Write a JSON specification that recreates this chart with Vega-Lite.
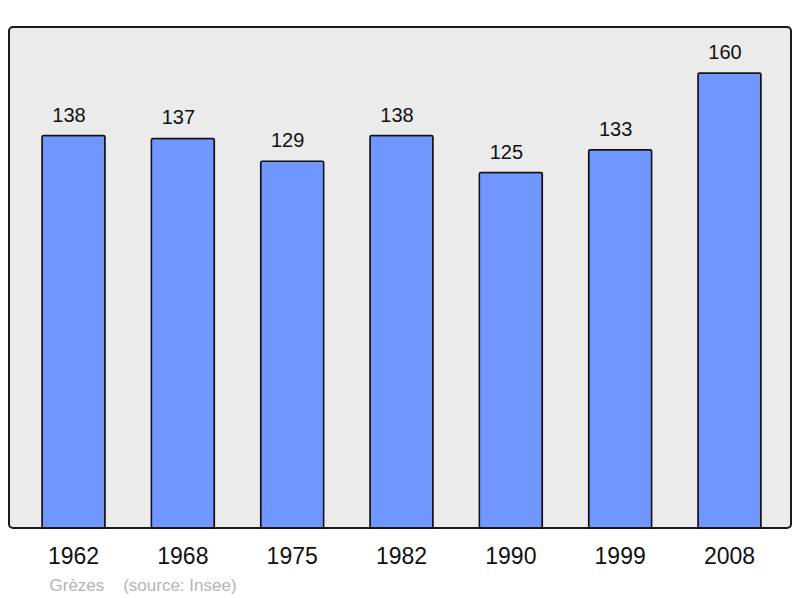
{
  "$schema": "https://vega.github.io/schema/vega-lite/v6.json",
  "width": 782,
  "height": 501,
  "autosize": {"type": "none"},
  "padding": {"left": 9, "top": 27, "right": 9, "bottom": 70},
  "background": "white",
  "config": {
    "font": "Liberation Sans",
    "view": {"fill": "#ebebeb", "stroke": "#1a1a1a", "strokeWidth": 2, "cornerRadius": 4}
  },
  "data": {
    "values": [
      {"year": "1962", "pop": 138},
      {"year": "1968", "pop": 137},
      {"year": "1975", "pop": 129},
      {"year": "1982", "pop": 138},
      {"year": "1990", "pop": 125},
      {"year": "1999", "pop": 133},
      {"year": "2008", "pop": 160}
    ]
  },
  "encoding": {
    "x": {
      "field": "year",
      "type": "ordinal",
      "scale": {"paddingInner": 0.4238, "paddingOuter": 0.28, "range": [2.4, 782.6]},
      "axis": {
        "labelAngle": 0,
        "labelFontSize": 23,
        "labelColor": "#111",
        "labelPadding": 17,
        "ticks": false,
        "domain": false,
        "title": "Grèzes\u00a0\u00a0\u00a0\u00a0(source: Insee)",
        "titleFontSize": 17,
        "titleFontWeight": "normal",
        "titleColor": "#b4b4b4",
        "titleAnchor": "start",
        "titleAlign": "left",
        "titleX": 40,
        "titleY": 62,
        "titleBaseline": "alphabetic"
      }
    },
    "y": {
      "field": "pop",
      "type": "quantitative",
      "scale": {"domain": [0, 176.2], "nice": false},
      "axis": null
    }
  },
  "layer": [
    {
      "mark": {"type": "bar", "color": "#7097ff", "stroke": "#111", "strokeWidth": 1.5, "cornerRadius": 1.5}
    },
    {
      "mark": {"type": "text", "baseline": "alphabetic", "dy": -14, "dx": -4.5, "fontSize": 20, "color": "#111"},
      "encoding": {"text": {"field": "pop", "type": "quantitative"}}
    }
  ]
}
